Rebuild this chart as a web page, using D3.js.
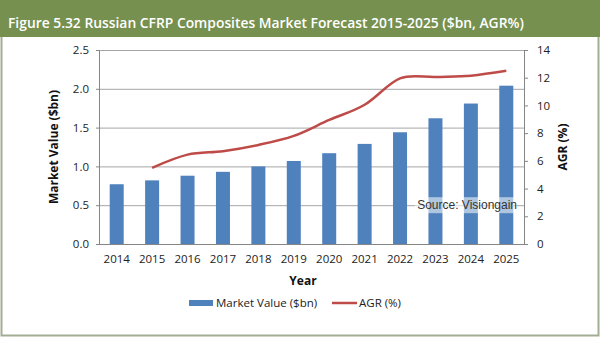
<!DOCTYPE html>
<html>
<head>
<meta charset="utf-8">
<script src="https://cdn.jsdelivr.net/npm/d3@7"></script>
<style>
  body { margin: 0; background: #fff; }
  svg { display: block; }
  text { font-family: "Open Sans", "Lato", sans-serif; }
</style>
</head>
<body>
<div id="chart"></div>
<script>
var years = ['2014', '2015', '2016', '2017', '2018', '2019', '2020', '2021', '2022', '2023', '2024', '2025'];
var marketValue = [0.77, 0.82, 0.88, 0.93, 1.00, 1.07, 1.17, 1.29, 1.44, 1.62, 1.81, 2.04];
var agrYears = ['2015', '2016', '2017', '2018', '2019', '2020', '2021', '2022', '2023', '2024', '2025'];
var agr = [5.5, 6.45, 6.7, 7.15, 7.8, 8.95, 10.05, 11.95, 12.05, 12.15, 12.5];
var leftTicks = [0, 0.5, 1.0, 1.5, 2.0, 2.5];
var rightTicks = [0, 2, 4, 6, 8, 10, 12, 14];

var W = 600, H = 337;
var m = {t: 50, b: 93, l: 99, r: 76};
var pw = W - m.l - m.r, ph = H - m.t - m.b;

var svg = d3.select("#chart").append("svg")
    .attr("width", W)
    .attr("height", H);

// frame + title bar
svg.append("rect")
    .attr("x", 1.5).attr("y", 1.5)
    .attr("width", W - 3).attr("height", H - 3)
    .attr("fill", "#fff")
    .attr("stroke", "#a3ad94")
    .attr("stroke-width", 2);
svg.append("rect")
    .attr("x", 0).attr("y", 0)
    .attr("width", W).attr("height", 37)
    .attr("fill", "#76904f");
var title = svg.append("text")
    .attr("x", 8).attr("y", 28)
    .attr("fill", "#fff")
    .style("font-size", "16px")
    .attr("font-weight", 600)
    .text("Figure 5.32 Russian CFRP Composites Market Forecast 2015-2025 ($bn, AGR%)");
// shrink the font until it fits the same width as the reference
var tw = title.node().getComputedTextLength();
if (tw > 516) title.style("font-size", (16 * 516 / tw).toFixed(2) + "px");

var g = svg.append("g").attr("transform", "translate(" + m.l + "," + m.t + ")");

var xc = d3.scaleBand().domain(years).range([0, pw]);
var y1 = d3.scaleLinear().domain([0, 2.5]).range([ph, 0]);
var y2 = d3.scaleLinear().domain([0, 14]).range([ph, 0]);

// gridlines
g.append("g")
    .selectAll("line")
    .data(leftTicks)
    .join("line")
    .attr("x1", 0).attr("x2", pw)
    .attr("y1", d => y1(d) + 0.5).attr("y2", d => y1(d) + 0.5)
    .attr("stroke", "#a6a6a6");

// bars
g.append("g")
    .selectAll("rect")
    .data(years)
    .join("rect")
    .attr("x", (d) => xc(d) + xc.bandwidth() / 2 - 7)
    .attr("width", 14)
    .attr("y", (d, i) => y1(marketValue[i]))
    .attr("height", (d, i) => ph - y1(marketValue[i]))
    .attr("fill", "#4f81bd");

// AGR line
var line = d3.line()
    .x((d, i) => xc(agrYears[i]) + xc.bandwidth() / 2)
    .y(d => y2(d))
    .curve(d3.curveCardinal.tension(0));
g.append("path")
    .attr("d", line(agr))
    .attr("fill", "none")
    .attr("stroke", "#be4b48")
    .attr("stroke-width", 2.5);

// axes
var leftAxis = g.append("g")
    .call(d3.axisLeft(y1).tickValues(leftTicks).tickFormat(d3.format(".1f")).tickSize(3).tickPadding(7));
var rightAxis = g.append("g")
    .attr("transform", "translate(" + pw + ",0)")
    .call(d3.axisRight(y2).tickValues(rightTicks).tickSize(4).tickPadding(9));
var bottomAxis = g.append("g")
    .attr("transform", "translate(0," + ph + ")")
    .call(d3.axisBottom(xc).tickSize(0).tickPadding(11));

[leftAxis, rightAxis, bottomAxis].forEach(a => {
    a.select(".domain").attr("stroke", "#868686");
    a.selectAll(".tick line").attr("stroke", "#868686");
    a.selectAll(".tick text")
        .attr("font-size", "11.5px")
        .attr("fill", "#222");
});
bottomAxis.select(".domain").attr("d", "M0,0.5H" + pw);

// source box
var src = g.append("g").attr("transform", "translate(" + (pw - 7) + "," + y1(0.5) + ")");
src.append("rect")
    .attr("x", -102).attr("y", -8)
    .attr("width", 102).attr("height", 16)
    .attr("fill", "#fff")
    .attr("opacity", 0.55);
src.append("text")
    .attr("text-anchor", "end")
    .attr("dy", "0.35em")
    .style("font-family", "'Liberation Sans', Arial, sans-serif")
    .attr("font-size", "12px")
    .attr("fill", "#333")
    .text("Source: Visiongain");

// axis titles
svg.append("text")
    .attr("transform", "translate(58," + (m.t + ph / 2) + ") rotate(-90)")
    .attr("text-anchor", "middle")
    .attr("font-size", "12px")
    .attr("font-weight", "bold")
    .attr("fill", "#111")
    .text("Market Value ($bn)");
svg.append("text")
    .attr("transform", "translate(567," + (m.t + ph / 2) + ") rotate(-90)")
    .attr("text-anchor", "middle")
    .attr("font-size", "12px")
    .attr("font-weight", "bold")
    .attr("fill", "#111")
    .text("AGR (%)");
svg.append("text")
    .attr("x", 303).attr("y", 285)
    .attr("text-anchor", "middle")
    .attr("font-size", "12px")
    .attr("font-weight", "bold")
    .attr("fill", "#111")
    .text("Year");

// legend
var lg = svg.append("g").attr("transform", "translate(0,303)");
lg.append("rect")
    .attr("x", 189).attr("y", -3)
    .attr("width", 24).attr("height", 6)
    .attr("fill", "#4f81bd");
lg.append("text")
    .attr("x", 216).attr("dy", "0.35em")
    .attr("font-size", "11.5px")
    .attr("fill", "#222")
    .text("Market Value ($bn)");
lg.append("line")
    .attr("x1", 332).attr("x2", 357)
    .attr("stroke", "#be4b48")
    .attr("stroke-width", 2.5);
lg.append("text")
    .attr("x", 359).attr("dy", "0.35em")
    .attr("font-size", "11.5px")
    .attr("fill", "#222")
    .text("AGR (%)");
</script>
</body>
</html>
